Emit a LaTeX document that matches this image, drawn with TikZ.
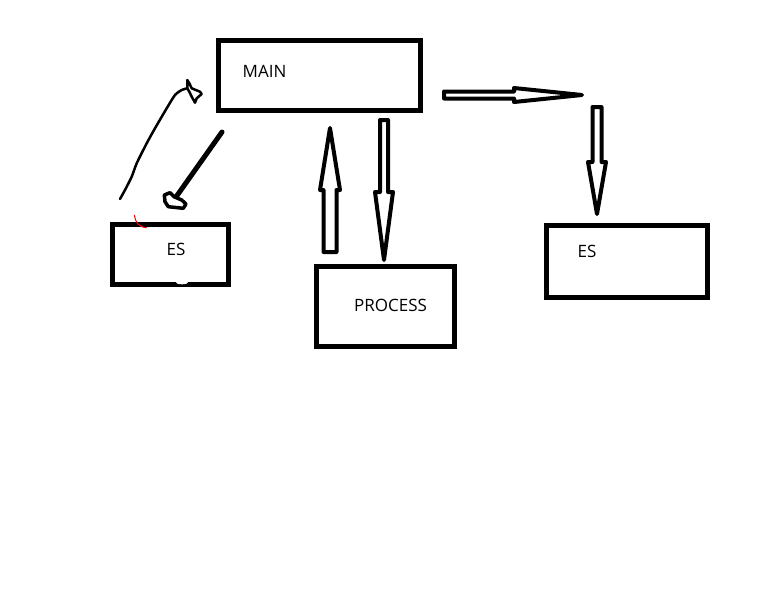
\documentclass[tikz,border=0pt]{standalone}
\usepackage{fontspec}
\setmainfont{Open Sans}
\usetikzlibrary{calc}

% hollow block arrow: tail, tip, shaft half width, head half width, head length
\newcommand{\blockarrow}[5]{%
  \path ($(#2)!#5!(#1)$) coordinate (ba-base);
  \draw[blockline] ($(#1)!#3!90:(#2)$) -- ($(ba-base)!#3!90:(#2)$) -- ($(ba-base)!#4!90:(#2)$) -- (#2)
    -- ($(ba-base)!#4!-90:(#2)$) -- ($(ba-base)!#3!-90:(#2)$) -- ($(#1)!#3!-90:(#2)$) -- cycle;
}

\begin{document}
\begin{tikzpicture}[x=1pt, y=-1pt,
    box/.style={rectangle, draw=black, line width=5pt, fill=white, inner sep=0pt},
    lbl/.style={inner sep=0pt, font=\fontsize{17}{20}\selectfont},
    blockline/.style={draw=black, fill=white, line width=4pt, line join=round}]

        \useasboundingbox (0,0) rectangle (768,614);

        \node[box, minimum width=202pt, minimum height=70pt] (main) at (319.5,75.5) {};
        \node[box, minimum width=116pt, minimum height=60pt] (esL) at (170.5,254.5) {};
        \node[box, minimum width=138pt, minimum height=80pt] (process) at (385.5,306.5) {};
        \node[box, minimum width=161pt, minimum height=72pt] (esR) at (627,261.5) {};

        \node[lbl] (mainText) at (264.5,71) {MAIN};
        \node[lbl] (esLText) at (176,249) {ES};
        \node[lbl] (processText) at (390.5,305) {PROCESS};
        \node[lbl] (esRText) at (587,251.5) {ES};

        \coordinate (upTail) at (330,252);
        \coordinate (upTip) at (330,128);
        \coordinate (downTail) at (384,120);
        \coordinate (downTip) at (384,260);
        \coordinate (rightTail) at (444,95);
        \coordinate (rightTip) at (582,95);
        \coordinate (esDownTail) at (597,107);
        \coordinate (esDownTip) at (597,214);

        \blockarrow{upTail}{upTip}{6.5pt}{10pt}{62pt}
        \blockarrow{downTail}{downTip}{4pt}{9pt}{68pt}
        \blockarrow{rightTail}{rightTip}{3.5pt}{7pt}{68pt}
        \blockarrow{esDownTail}{esDownTip}{4.5pt}{9pt}{52pt}

        \coordinate (diagStart) at (222,132);
        \coordinate (diagEnd) at (176,197);
        \draw[line width=5pt, line cap=round] (diagStart) -- (diagEnd);
        \draw[line width=3.5pt, fill=white, line join=round] (164.3,195) -- (170,192.7) -- (174,196.7) -- (181.7,200)
            -- (186,204) -- (183.3,208.3) -- (168.3,206.7) -- (165,201.7) -- cycle;

        \coordinate (curveStart) at (120,199);
        \coordinate (curveEnd) at (187.3,88.3);
        \draw[line width=2.5pt, line cap=round, line join=round] plot[smooth, tension=0.4] coordinates {(curveStart) (125,190)
            (131.7,176.7) (136.7,163.3) (146.7,143.3) (155,128.3) (166.7,108.3) (175,95) (181.7,90) (curveEnd)};
        \draw[line width=2.5pt, line cap=round, line join=round] (187.3,80) -- (189.3,83.3) -- (191.7,88.3) -- (200,91.7)
            -- (201.7,94) -- (196.7,98.3) -- (195,102.7) -- (191.7,96.7) -- (189.3,91.7) -- (187.3,88.3) -- cycle;

        \draw[red, line width=1pt] (134.3,215) .. controls (135.5,222) and (138,227) .. (146.7,227.7);

        \fill[white] (182,282.5) ellipse (6pt and 1.8pt);

    \end{tikzpicture}
\end{document}
